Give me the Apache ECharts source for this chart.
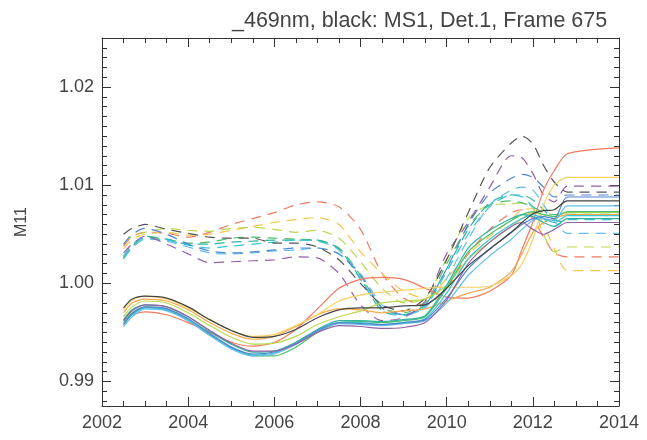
<!DOCTYPE html>
<html>
<head>
<meta charset="utf-8">
<script src="https://cdn.jsdelivr.net/npm/echarts@6/dist/echarts.min.js"></script>
<style>
  html, body { margin: 0; padding: 0; background: #fff; }
  #chart { width: 647px; height: 440px; }
</style>
</head>
<body>
<div id="chart"></div>
<script>
// sample times (years)
const years = [2002.5, 2002.7, 2003.0, 2003.5, 2004.0, 2004.5, 2005.0, 2005.5, 2006.0, 2006.5,
  2007.0, 2007.5, 2008.0, 2008.5, 2009.0, 2009.5, 2010.0, 2010.5, 2011.0, 2011.5,
  2011.75, 2012.0, 2012.25, 2012.5, 2012.8, 2014.0];

// dashed group (upper at start)
const dRed    = [1.0038, 1.0048, 1.0052, 1.0051, 1.0047, 1.0052, 1.0060, 1.0066, 1.0072, 1.0080, 1.0083, 1.0078, 1.0055, 1.0010, 0.9985, 0.9978, 0.9995, 1.0030, 1.0055, 1.0072, 1.0075, 1.0066, 1.0047, 1.0031, 1.0027, 1.0027];
const dYellow = [1.0035, 1.0045, 1.0050, 1.0052, 1.0049, 1.0050, 1.0054, 1.0058, 1.0062, 1.0065, 1.0067, 1.0060, 1.0032, 1.0010, 0.9992, 0.9985, 1.0005, 1.0030, 1.0048, 1.0065, 1.0075, 1.0076, 1.0060, 1.0035, 1.0013, 1.0013];
const dYG     = [1.0040, 1.0048, 1.0052, 1.0056, 1.0054, 1.0053, 1.0056, 1.0057, 1.0055, 1.0052, 1.0054, 1.0046, 1.0022, 0.9995, 0.9980, 0.9985, 1.0025, 1.0066, 1.0080, 1.0081, 1.0082, 1.0077, 1.0050, 1.0032, 1.0037, 1.0037];
const dGreen  = [1.0027, 1.0038, 1.0047, 1.0045, 1.0041, 1.0042, 1.0046, 1.0047, 1.0046, 1.0045, 1.0044, 1.0036, 1.0008, 0.9975, 0.9970, 0.9980, 1.0020, 1.0058, 1.0080, 1.0084, 1.0082, 1.0078, 1.0072, 1.0070, 1.0072, 1.0072];
const dTeal   = [1.0025, 1.0037, 1.0048, 1.0045, 1.0040, 1.0040, 1.0042, 1.0043, 1.0044, 1.0044, 1.0044, 1.0035, 1.0005, 0.9972, 0.9968, 0.9978, 1.0015, 1.0055, 1.0082, 1.0090, 1.0090, 1.0085, 1.0075, 1.0065, 1.0062, 1.0062];
const dCyan   = [1.0026, 1.0036, 1.0045, 1.0044, 1.0039, 1.0036, 1.0038, 1.0040, 1.0042, 1.0044, 1.0043, 1.0034, 1.0004, 0.9972, 0.9967, 0.9976, 1.0012, 1.0050, 1.0078, 1.0090, 1.0088, 1.0078, 1.0066, 1.0058, 1.0065, 1.0065];
const dLBlue  = [1.0028, 1.0040, 1.0046, 1.0043, 1.0037, 1.0031, 1.0030, 1.0031, 1.0033, 1.0034, 1.0036, 1.0030, 1.0010, 0.9978, 0.9968, 0.9975, 1.0005, 1.0045, 1.0080, 1.0095, 1.0098, 1.0095, 1.0080, 1.0063, 1.0051, 1.0051];
const dBlue   = [1.0040, 1.0050, 1.0056, 1.0050, 1.0040, 1.0033, 1.0031, 1.0032, 1.0034, 1.0036, 1.0036, 1.0030, 1.0008, 0.9975, 0.9968, 0.9978, 1.0015, 1.0060, 1.0092, 1.0107, 1.0111, 1.0108, 1.0098, 1.0088, 1.0090, 1.0090];
const dPurple = [1.0031, 1.0040, 1.0048, 1.0040, 1.0030, 1.0021, 1.0022, 1.0023, 1.0024, 1.0027, 1.0026, 1.0010, 0.9978, 0.9962, 0.9965, 0.9982, 1.0030, 1.0062, 1.0098, 1.0130, 1.0128, 1.0112, 1.0090, 1.0083, 1.0099, 1.0099];
const dBlack  = [1.0050, 1.0056, 1.0060, 1.0055, 1.0051, 1.0047, 1.0046, 1.0046, 1.0041, 1.0041, 1.0037, 1.0024, 1.0000, 0.9978, 0.9972, 0.9985, 1.0024, 1.0072, 1.0118, 1.0143, 1.0150, 1.0142, 1.0120, 1.0103, 1.0093, 1.0093];

// solid group (lower at start)
const sRed    = [0.9962, 0.9968, 0.9971, 0.9968, 0.9960, 0.9950, 0.9940, 0.9936, 0.9940, 0.9953, 0.9974, 0.9995, 1.0004, 1.0006, 1.0004, 0.9995, 0.9986, 0.9985, 0.9992, 1.0008, 1.0035, 1.0062, 1.0095, 1.0115, 1.0132, 1.0138];
const sOrange = [0.9970, 0.9980, 0.9984, 0.9982, 0.9973, 0.9960, 0.9949, 0.9943, 0.9946, 0.9956, 0.9968, 0.9974, 0.9973, 0.9970, 0.9972, 0.9974, 0.9982, 0.9990, 0.9996, 1.0012, 1.0030, 1.0052, 1.0062, 1.0066, 1.0070, 1.0070];
const sGold   = [0.9973, 0.9983, 0.9987, 0.9984, 0.9975, 0.9963, 0.9952, 0.9946, 0.9948, 0.9957, 0.9968, 0.9982, 0.9988, 0.9991, 0.9993, 0.9995, 0.9996, 0.9996, 0.9997, 1.0008, 1.0020, 1.0045, 1.0080, 1.0100, 1.0108, 1.0108];
const sYG     = [0.9966, 0.9976, 0.9982, 0.9980, 0.9970, 0.9957, 0.9945, 0.9938, 0.9939, 0.9946, 0.9958, 0.9966, 0.9972, 0.9980, 0.9982, 0.9984, 0.9998, 1.0025, 1.0042, 1.0058, 1.0066, 1.0072, 1.0070, 1.0068, 1.0072, 1.0072];
const sGreen  = [0.9960, 0.9970, 0.9976, 0.9974, 0.9963, 0.9948, 0.9935, 0.9926, 0.9926, 0.9935, 0.9950, 0.9960, 0.9961, 0.9960, 0.9962, 0.9966, 0.9995, 1.0032, 1.0050, 1.0064, 1.0070, 1.0073, 1.0070, 1.0068, 1.0073, 1.0073];
const sTeal   = [0.9963, 0.9973, 0.9978, 0.9976, 0.9966, 0.9951, 0.9938, 0.9930, 0.9931, 0.9940, 0.9953, 0.9962, 0.9962, 0.9961, 0.9963, 0.9967, 0.9998, 1.0036, 1.0054, 1.0066, 1.0070, 1.0068, 1.0062, 1.0058, 1.0066, 1.0066];
const sCyan   = [0.9958, 0.9968, 0.9975, 0.9973, 0.9962, 0.9947, 0.9934, 0.9927, 0.9929, 0.9938, 0.9951, 0.9960, 0.9960, 0.9958, 0.9960, 0.9964, 0.9990, 1.0025, 1.0045, 1.0060, 1.0066, 1.0070, 1.0066, 1.0062, 1.0069, 1.0069];
const sLBlue  = [0.9956, 0.9966, 0.9974, 0.9972, 0.9962, 0.9947, 0.9933, 0.9926, 0.9928, 0.9938, 0.9951, 0.9959, 0.9958, 0.9957, 0.9959, 0.9962, 0.9980, 1.0008, 1.0028, 1.0045, 1.0055, 1.0064, 1.0066, 1.0064, 1.0079, 1.0079];
const sBlue   = [0.9958, 0.9969, 0.9976, 0.9974, 0.9964, 0.9949, 0.9935, 0.9928, 0.9930, 0.9939, 0.9952, 0.9960, 0.9959, 0.9958, 0.9960, 0.9963, 0.9985, 1.0015, 1.0035, 1.0052, 1.0060, 1.0066, 1.0068, 1.0066, 1.0088, 1.0088];
const sPurple = [0.9962, 0.9972, 0.9978, 0.9976, 0.9966, 0.9952, 0.9939, 0.9931, 0.9931, 0.9938, 0.9950, 0.9957, 0.9956, 0.9954, 0.9955, 0.9960, 0.9983, 1.0020, 1.0042, 1.0058, 1.0062, 1.0055, 1.0050, 1.0055, 1.0062, 1.0062];
const sBlack  = [0.9975, 0.9984, 0.9987, 0.9985, 0.9976, 0.9963, 0.9952, 0.9945, 0.9946, 0.9953, 0.9965, 0.9973, 0.9975, 0.9975, 0.9977, 0.9978, 0.9995, 1.0018, 1.0035, 1.0052, 1.0062, 1.0071, 1.0074, 1.0075, 1.0084, 1.0084];

const yLabels = [0.99, 1.00, 1.01, 1.02];

const lines = [
  ['dRed', dRed, '#f4795e', true], ['dYellow', dYellow, '#f8c450', true],
  ['dYG', dYG, '#b9d84e', true], ['dGreen', dGreen, '#4cbf6e', true],
  ['dTeal', dTeal, '#2fb3a0', true], ['dCyan', dCyan, '#3cc3d6', true],
  ['dLBlue', dLBlue, '#62bde8', true], ['dBlue', dBlue, '#4f86d2', true],
  ['dPurple', dPurple, '#9363a8', true], ['dBlack', dBlack, '#555555', true],
  ['sRed', sRed, '#f4795e', false], ['sOrange', sOrange, '#f5a94a', false],
  ['sGold', sGold, '#f8cf60', false], ['sYG', sYG, '#b9d84e', false],
  ['sGreen', sGreen, '#4cbf6e', false], ['sTeal', sTeal, '#2fb3a0', false],
  ['sCyan', sCyan, '#3cc3d6', false], ['sLBlue', sLBlue, '#62bde8', false],
  ['sBlue', sBlue, '#4f86d2', false], ['sPurple', sPurple, '#9363a8', false],
  ['sBlack', sBlack, '#444444', false]
];

const minorY = [];
for (let k = 988; k <= 1025; k++) minorY.push(k / 1000);

const font = 'Liberation Sans, Arial, sans-serif';
const axisCol = '#333';

function xAx(pos, show) {
  return {
    type: 'value', position: pos, min: 2002, max: 2014, interval: 2,
    axisLine: { show: true, lineStyle: { color: axisCol, width: 1 } },
    axisTick: { show: true, inside: true, length: 9, lineStyle: { color: axisCol } },
    minorTick: { show: true, splitNumber: 4, length: 5, lineStyle: { color: axisCol } },
    splitLine: { show: false },
    axisLabel: { show: show, margin: 8, fontSize: 18, color: '#444', fontFamily: font,
      formatter: v => String(v) }
  };
}
function yAx(pos, major, show) {
  const ticks = major ? yLabels : minorY;
  return {
    type: 'value', position: pos, min: 0.9875, max: 1.025,
    name: show ? 'M11' : '', nameLocation: 'middle', nameGap: 72,
    nameTextStyle: { fontSize: 16, color: '#444', fontFamily: font },
    axisLine: { show: major, lineStyle: { color: axisCol, width: 1 } },
    axisTick: { show: true, inside: true, length: major ? 9 : 5, customValues: ticks,
      lineStyle: { color: axisCol } },
    splitLine: { show: false },
    axisLabel: { show: show, margin: 8, fontSize: 18, color: '#444', fontFamily: font,
      customValues: yLabels, formatter: v => v.toFixed(2) }
  };
}

const chart = echarts.init(document.getElementById('chart'), null, { renderer: 'canvas' });
chart.setOption({
  animation: false,
  backgroundColor: '#fff',
  title: {
    text: '_469nm, black: MS1, Det.1, Frame 675',
    left: 227, top: 5,
    textStyle: { fontSize: 21.5, fontWeight: 'normal', color: '#444', fontFamily: font }
  },
  grid: { left: 102, right: 28, top: 38, bottom: 34 },
  xAxis: [xAx('bottom', true), xAx('top', false)],
  yAxis: [yAx('left', true, true), yAx('left', false, false),
          yAx('right', true, false), yAx('right', false, false)],
  series: lines.map(([name, vals, color, dashed]) => ({
    name, type: 'line', xAxisIndex: 0, yAxisIndex: 0,
    showSymbol: false, smooth: 0.25,
    data: years.map((t, i) => [t, vals[i]]),
    lineStyle: { color, width: 1.2, type: dashed ? [10, 7] : 'solid' }
  }))
});
</script>
</body>
</html>
